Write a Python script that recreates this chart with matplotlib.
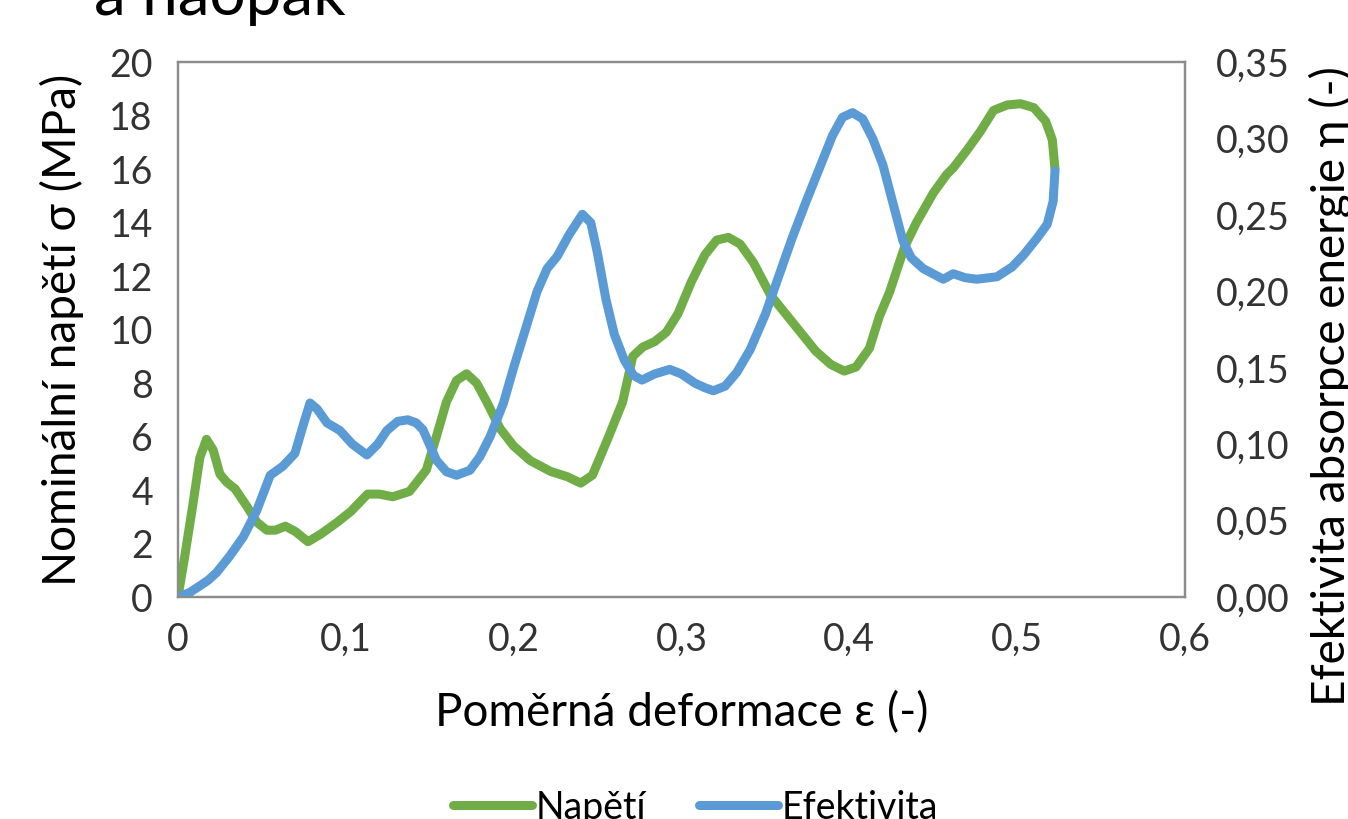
import matplotlib
matplotlib.use("Agg")
import matplotlib.pyplot as plt
from matplotlib.ticker import FuncFormatter

plt.rcParams['font.family'] = ['Lato', 'DejaVu Sans']

# Napětí (MPa) vs. poměrná deformace
eps_green = [0, 0.004, 0.009, 0.013, 0.017, 0.021, 0.025, 0.029, 0.034, 0.041,
             0.047, 0.053, 0.058, 0.064, 0.07, 0.0775, 0.085, 0.095, 0.103, 0.113,
             0.12, 0.128, 0.138, 0.148, 0.154, 0.160, 0.166, 0.172, 0.178, 0.184,
             0.192, 0.2, 0.21, 0.222, 0.232, 0.24, 0.247, 0.256, 0.265, 0.271,
             0.277, 0.284, 0.291, 0.298, 0.306, 0.314, 0.321, 0.328, 0.335, 0.343,
             0.353, 0.362, 0.371, 0.38, 0.389, 0.397, 0.404, 0.412, 0.418, 0.424,
             0.433, 0.44, 0.45, 0.458, 0.462, 0.47, 0.478, 0.486, 0.494, 0.502,
             0.51, 0.517, 0.521, 0.5226]
napeti = [0, 1.5, 3.5, 5.2, 5.9, 5.5, 4.6, 4.3, 4.05, 3.4,
          2.8, 2.5, 2.5, 2.65, 2.45, 2.07, 2.35, 2.8, 3.2, 3.85,
          3.85, 3.75, 3.95, 4.75, 6.0, 7.3, 8.1, 8.35, 8.0, 7.3,
          6.3, 5.65, 5.1, 4.7, 4.5, 4.26, 4.56, 5.9, 7.3, 9.0,
          9.35, 9.55, 9.9, 10.6, 11.8, 12.8, 13.35, 13.45, 13.2, 12.5,
          11.3, 10.6, 9.9, 9.2, 8.7, 8.45, 8.6, 9.3, 10.5, 11.4,
          13.1, 14.0, 15.1, 15.8, 16.05, 16.7, 17.4, 18.2, 18.4, 18.45,
          18.3, 17.8, 17.1, 16.0]

# Efektivita absorpce energie
eps_blue = [0, 0.007, 0.013, 0.018, 0.023, 0.031, 0.039, 0.047, 0.055, 0.0626,
            0.0697, 0.0745, 0.0787, 0.083, 0.0888, 0.0965, 0.104, 0.1126, 0.119, 0.1245,
            0.131, 0.137, 0.142, 0.146, 0.154, 0.16, 0.166, 0.174, 0.18, 0.186,
            0.194, 0.2, 0.207, 0.214, 0.22, 0.226, 0.233, 0.241, 0.246, 0.25,
            0.255, 0.26, 0.266, 0.2715, 0.2765, 0.284, 0.293, 0.3, 0.308, 0.314,
            0.319, 0.326, 0.333, 0.341, 0.35, 0.358, 0.366, 0.374, 0.382, 0.39,
            0.396, 0.402, 0.408, 0.414, 0.42, 0.426, 0.432, 0.437, 0.444, 0.456,
            0.462, 0.469, 0.476, 0.488, 0.497, 0.504, 0.512, 0.518, 0.5215, 0.5226]
efektivita = [0, 0.003, 0.0073, 0.011, 0.016, 0.027, 0.0395, 0.0567, 0.0797, 0.0857,
              0.094, 0.112, 0.127, 0.123, 0.114, 0.109, 0.1, 0.093, 0.1, 0.109,
              0.115, 0.116, 0.114, 0.1095, 0.0896, 0.082, 0.0797, 0.083, 0.092, 0.105,
              0.127, 0.15, 0.175, 0.2, 0.215, 0.223, 0.237, 0.2505, 0.245, 0.225,
              0.195, 0.172, 0.155, 0.145, 0.142, 0.146, 0.149, 0.146, 0.14, 0.137,
              0.135, 0.138, 0.147, 0.162, 0.185, 0.21, 0.235, 0.258, 0.28, 0.302,
              0.314, 0.317, 0.313, 0.3, 0.283, 0.258, 0.233, 0.222, 0.215, 0.208,
              0.2116, 0.209, 0.208, 0.2096, 0.216, 0.224, 0.235, 0.244, 0.259, 0.279]

green = '#70AD47'
blue = '#5B9BD5'
grey = '#8c8c8c'
tick_fs = 27
label_fs = 33

fig = plt.figure(figsize=(13.48, 8.19), dpi=100)
ax = fig.add_axes([0.132, 0.271, 0.747, 0.653])
ax2 = ax.twinx()

l1, = ax.plot(eps_green, napeti, color=green, lw=6.5, solid_capstyle='round',
              solid_joinstyle='round', label='Napětí')
l2, = ax2.plot(eps_blue, efektivita, color=blue, lw=6.5, solid_capstyle='round',
               solid_joinstyle='round', label='Efektivita')

ax.set_xlim(0, 0.6)
ax.set_ylim(0, 20)
ax2.set_ylim(0, 0.35)
ax.set_xticks([0, 0.1, 0.2, 0.3, 0.4, 0.5, 0.6])
ax.set_yticks(range(0, 21, 2))
ax2.set_yticks([0, 0.05, 0.1, 0.15, 0.2, 0.25, 0.3, 0.35])

ax.xaxis.set_major_formatter(FuncFormatter(lambda v, p: ('%g' % round(v, 1)).replace('.', ',')))
ax2.yaxis.set_major_formatter(FuncFormatter(lambda v, p: ('%.2f' % v).replace('.', ',')))

for a in (ax, ax2):
    for s in a.spines.values():
        s.set_color(grey)
        s.set_linewidth(1.6)
ax.tick_params(axis='both', length=0, labelsize=tick_fs, colors='#333333')
ax.tick_params(axis='x', pad=18)
ax.tick_params(axis='y', pad=18)
ax2.tick_params(axis='y', length=0, labelsize=tick_fs, colors='#333333', pad=22)

ax.set_xlabel('Poměrná deformace ε (-)', fontsize=label_fs)
ax.xaxis.set_label_coords(0.5, -0.176)
ax.set_ylabel('Nominální napětí σ (MPa)', fontsize=label_fs)
ax.yaxis.set_label_coords(-0.093, 0.5)
ax2.set_ylabel('Efektivita absorpce energie η (-)', fontsize=label_fs)
ax2.yaxis.set_label_coords(1.123, 0.395)

fig.text(0.07, 0.982, 'a naopak', fontsize=46, va='baseline', ha='left')

fig.legend(handles=[l1, l2], loc='upper center', bbox_to_anchor=(0.516, 0.036),
           ncol=2, frameon=False, fontsize=27, handlelength=2.1,
           handletextpad=0.1, columnspacing=1.4, borderaxespad=0, borderpad=0)

fig.savefig('out.png', dpi=100)
